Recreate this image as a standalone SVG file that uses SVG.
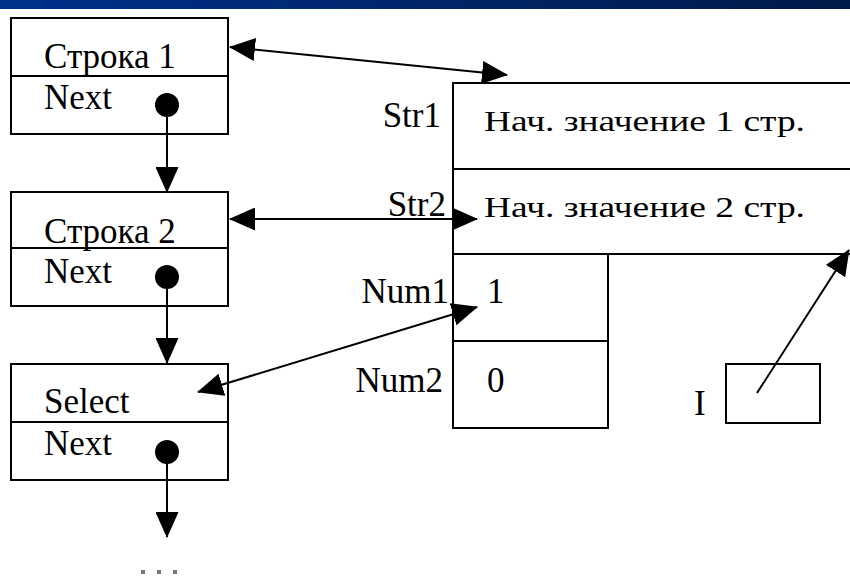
<svg xmlns="http://www.w3.org/2000/svg" width="850" height="578" viewBox="0 0 850 578">
  <defs>
    <linearGradient id="band" x1="0" y1="0" x2="1" y2="0">
      <stop offset="0" stop-color="#00308c"/>
      <stop offset="1" stop-color="#001a48"/>
    </linearGradient>
    <marker id="head" viewBox="0 0 26 23" markerUnits="userSpaceOnUse" markerWidth="26" markerHeight="23" refX="25" refY="11.5" orient="auto-start-reverse">
      <path d="M0,0 L26,11.5 L0,23 Z" fill="#000"/>
    </marker>
  </defs>
  <style>
    .box { fill: #fff; stroke: #000; stroke-width: 2; }
    .ln { fill: none; stroke: #000; stroke-width: 2; }
    .t { font-family: "Liberation Serif", "Times New Roman", serif; font-size: 35px; fill: #000; }
    .v { font-family: "Liberation Serif", "Times New Roman", serif; font-size: 30px; fill: #000; }
    .lbl { text-anchor: end; }
    .dot { fill: #000; }
    .arr { fill: none; stroke: #000; stroke-width: 2; marker-end: url(#head); }
    .dbl { fill: none; stroke: #000; stroke-width: 2; marker-start: url(#head); marker-end: url(#head); }
  </style>

  <rect width="850" height="578" fill="#fff"/>
  <!-- title strip along the top edge -->
  <rect x="0" y="0" width="850" height="9" fill="url(#band)"/>

  <!-- list element 1 -->
  <g id="node-row1">
    <rect class="box" x="11" y="18" width="217" height="116"/>
    <line class="ln" x1="11" y1="76" x2="228" y2="76"/>
    <text class="t" x="44" y="68">Строка 1</text>
    <text class="t" x="44" y="109">Next</text>
    <circle class="dot" cx="167" cy="105" r="12"/>
  </g>

  <!-- list element 2 -->
  <g id="node-row2">
    <rect class="box" x="11" y="192" width="217" height="114"/>
    <line class="ln" x1="11" y1="248" x2="228" y2="248"/>
    <text class="t" x="44" y="243">Строка 2</text>
    <text class="t" x="44" y="283">Next</text>
    <circle class="dot" cx="167" cy="277" r="12"/>
  </g>

  <!-- list element 3 -->
  <g id="node-select">
    <rect class="box" x="11" y="364" width="217" height="116"/>
    <line class="ln" x1="11" y1="422" x2="228" y2="422"/>
    <text class="t" x="44" y="413">Select</text>
    <text class="t" x="44" y="455">Next</text>
    <circle class="dot" cx="167" cy="452" r="12"/>
  </g>

  <!-- continuation mark -->
  <g id="node-more" fill="#777">
    <rect x="141" y="570" width="4" height="4"/>
    <rect x="157" y="570" width="4" height="4"/>
    <rect x="173" y="570" width="4" height="4"/>
  </g>

  <!-- record with string and number fields -->
  <g id="node-record">
    <path class="ln" d="M852,83 H453 V428 H608 V254 M453,169 H852 M453,254 H852 M453,341 H608"/>
    <text class="t lbl" x="441" y="127">Str1</text>
    <text class="t lbl" x="446" y="216">Str2</text>
    <text class="t lbl" x="449" y="303">Num1</text>
    <text class="t lbl" x="443" y="392">Num2</text>
    <text class="v" x="484" y="131" textLength="321" lengthAdjust="spacingAndGlyphs">Нач. значение 1 стр.</text>
    <text class="v" x="484" y="217" textLength="321" lengthAdjust="spacingAndGlyphs">Нач. значение 2 стр.</text>
    <text class="t" x="487" y="303">1</text>
    <text class="t" x="487" y="392">0</text>
  </g>

  <!-- index variable -->
  <g id="node-i">
    <rect class="box" x="726" y="364" width="94" height="59"/>
    <text class="t" x="694" y="415">I</text>
  </g>

  <g id="connectors">
    <line class="arr" x1="167" y1="105" x2="167" y2="192"/>
    <line class="arr" x1="167" y1="277" x2="167" y2="363"/>
    <line class="arr" x1="167" y1="452" x2="167" y2="537"/>
    <line class="dbl" x1="230" y1="47" x2="507" y2="75"/>
    <line class="dbl" x1="230" y1="219" x2="477" y2="219"/>
    <line class="dbl" x1="198" y1="392" x2="477" y2="307"/>
    <line class="arr" x1="757" y1="393" x2="849" y2="250"/>
  </g>
</svg>
